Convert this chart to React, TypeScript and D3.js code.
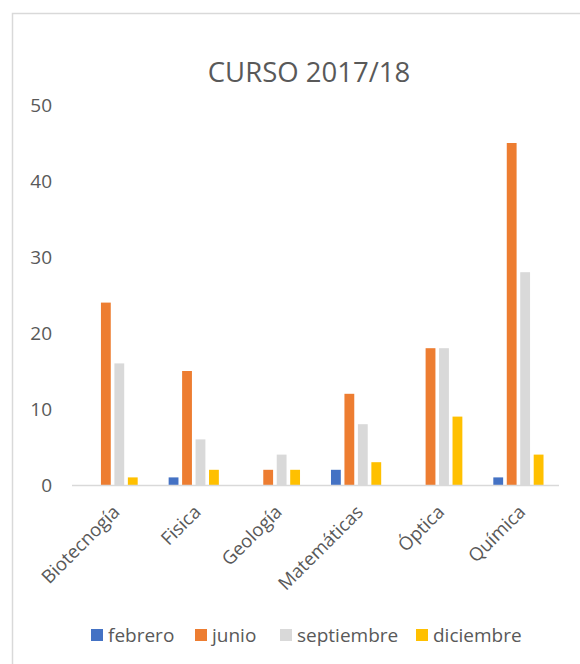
import { useEffect, useRef } from 'react';
import * as d3 from 'd3';

const categories = ['Biotecnogía', 'Fisica', 'Geología', 'Matemáticas', 'Óptica', 'Química'];
const seriesNames = ['febrero', 'junio', 'septiembre', 'diciembre'];
const seriesColors = ['#4472C4', '#ED7D31', '#D9D9D9', '#FFC000'];
const febrero = [0, 1, 0, 2, 0, 1];
const junio = [24, 15, 2, 12, 18, 45];
const septiembre = [16, 6, 4, 8, 18, 28];
const diciembre = [1, 2, 2, 3, 9, 4];
const yTicks = [0, 10, 20, 30, 40, 50];

export default function App() {
  const ref = useRef<SVGSVGElement>(null);

  useEffect(() => {
    const svgEl = ref.current;
    if (!svgEl) return;
    const svg = d3.select(svgEl);
    svg.selectAll('*').remove();

    const W = 580, H = 664;
    const font = '"Open Sans", sans-serif';
    const textColor = '#595959';
    const values = [febrero, junio, septiembre, diciembre];

    svg.append('rect').attr('x', 0).attr('y', 0).attr('width', W).attr('height', H).attr('fill', '#fff');
    // chart area border (right/bottom edges fall outside the picture)
    svg.append('rect').attr('x', 12.5).attr('y', 13.5).attr('width', W).attr('height', H)
      .attr('fill', 'none').attr('stroke', '#D9D9D9').attr('stroke-width', 1.5);

    svg.append('text').attr('x', 309).attr('y', 82).attr('text-anchor', 'middle')
      .attr('font-family', font).attr('font-size', 27.5).attr('fill', textColor)
      .text('CURSO 2017/18');

    const left = 72, right = 559, top = 105, bottom = 485;
    const x0 = d3.scaleBand().domain(categories).range([left, right]).paddingInner(0).paddingOuter(0);
    const x1 = d3.scaleBand().domain(seriesNames).range([0, x0.bandwidth()]).paddingInner(0.27).paddingOuter(1.15);
    const y = d3.scaleLinear().domain([0, 50]).range([bottom, top]);

    const g = svg.append('g');
    seriesNames.forEach((name, si) => {
      g.selectAll(`.bar-${si}`).data(categories).enter().append('rect')
        .attr('x', c => (x0(c) ?? 0) + (x1(name) ?? 0))
        .attr('width', x1.bandwidth())
        .attr('y', (_, i) => y(values[si][i]))
        .attr('height', (_, i) => bottom - y(values[si][i]))
        .attr('fill', seriesColors[si]);
    });

    svg.append('line').attr('x1', left).attr('x2', right).attr('y1', bottom + 0.5).attr('y2', bottom + 0.5)
      .attr('stroke', '#D9D9D9').attr('stroke-width', 1.5);

    svg.append('g').selectAll('text').data(yTicks).enter().append('text')
      .attr('x', 52).attr('y', d => y(d)).attr('dy', '0.35em').attr('text-anchor', 'end')
      .attr('font-family', font).attr('font-size', 19).attr('fill', textColor)
      .text(d => d);

    svg.append('g').selectAll('text').data(categories).enter().append('text')
      .attr('transform', c => `translate(${(x0(c) ?? 0) + x0.bandwidth() / 2 - 1},${bottom + 19}) rotate(-45)`)
      .attr('text-anchor', 'end').attr('dy', '0.7em')
      .attr('font-family', font).attr('font-size', 18.5).attr('fill', textColor)
      .text(c => c);

    const legendX = [91, 195, 280, 416];
    const legend = svg.append('g');
    seriesNames.forEach((name, i) => {
      legend.append('rect').attr('x', legendX[i]).attr('y', 629).attr('width', 12).attr('height', 12)
        .attr('fill', seriesColors[i]);
      legend.append('text').attr('x', legendX[i] + 17).attr('y', 635).attr('dy', '0.35em')
        .attr('font-family', font).attr('font-size', 19).attr('fill', textColor)
        .text(name);
    });
  }, []);

  return (
    <svg ref={ref} width={580} height={664}
      style={{ position: 'absolute', left: 0, top: 0, display: 'block' }} />
  );
}
